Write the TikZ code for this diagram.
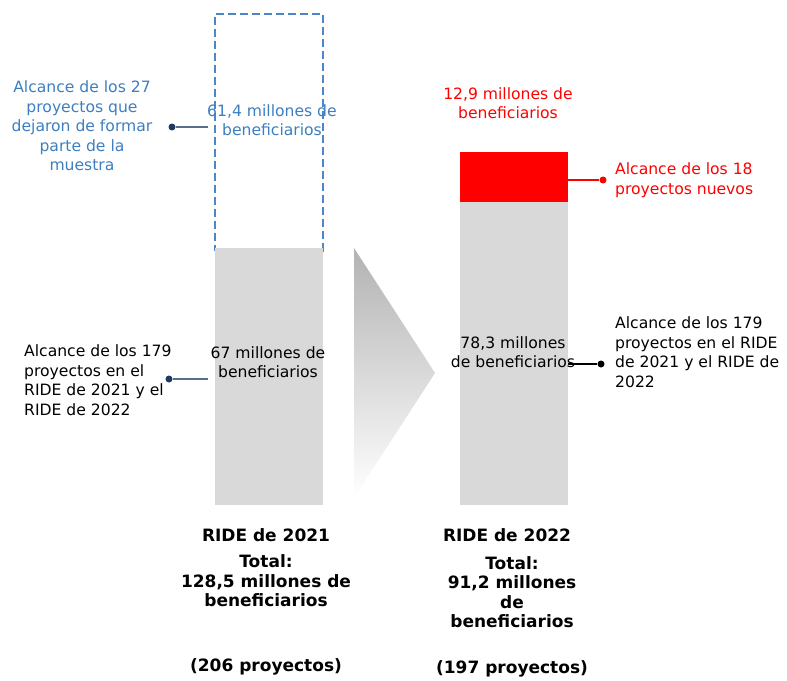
\documentclass[tikz,border=0pt]{standalone}
\usepackage{fontspec}
\setmainfont{DejaVu Sans}
\definecolor{barfill}{RGB}{217,217,217}
\definecolor{blueline}{RGB}{74,134,200}
\definecolor{bluetext}{RGB}{61,126,192}
\definecolor{navydot}{RGB}{31,56,100}
\definecolor{linkgray}{RGB}{90,110,140}

\begin{document}
\begin{tikzpicture}[x=1pt,y=-1pt,
	every node/.style={font=\fontsize{15.6}{19.5}\selectfont,inner sep=0pt},
	bar/.style={fill=barfill,draw=none,minimum width=108pt},
	dotmark/.style={circle,fill,inner sep=0pt,minimum size=7pt},
	link/.style={line width=1.3pt},
	bold/.style={font=\bfseries\fontsize{17}{19.5}\selectfont,align=center}]
	\useasboundingbox (0,0) rectangle (787,680);
	
	%bars
	\node[bar,minimum height=237pt,fill=none,draw=blueline,line width=1.2pt,dash pattern=on 8pt off 4pt] (lost) at (269,132.5) {}; %left, dashed
	\node[bar,minimum height=257pt] (old) at (269,376.5) {};		%left, grey
	\node[bar,minimum height=50pt,fill=red] (fresh) at (513.5,177) {};	%right, red
	\node[bar,minimum height=303pt] (kept) at (513.5,353.5) {};	%right, grey
	\shade[top color=black!30,bottom color=white] (354,248)--(435,373)--(354,498)--cycle; %arrow
	
	%labels in the bars
	\node[text=bluetext,align=center] (lostval) at (272,120) {61,4 millones de\\beneficiarios};
	\node[align=center] (oldval) at (268,362) {67 millones de\\beneficiarios};
	\node[text=red,align=center] (freshval) at (508,103) {12,9 millones de\\beneficiarios};
	\node[align=center] (keptval) at (513,352) {78,3 millones\\de beneficiarios};
	
	%side labels
	\node[text=bluetext,align=center] (lostlbl) at (82,126) {Alcance de los 27\\proyectos que\\dejaron de formar\\parte de la\\muestra};
	\node[align=left,anchor=west] (oldlbl) at (24,380) {Alcance de los 179\\proyectos en el\\RIDE de 2021 y el\\RIDE de 2022};
	\node[text=red,align=left,anchor=west] (freshlbl) at (615,180) {Alcance de los 18\\proyectos nuevos};
	\node[align=left,anchor=west] (keptlbl) at (615,352) {Alcance de los 179\\proyectos en el RIDE\\de 2021 y el RIDE de\\2022};
	
	%connectors
	\node[dotmark,navydot] (lostdot) at (172,127) {};
	\node[dotmark,navydot] (olddot) at (169,379) {};
	\node[dotmark,red] (freshdot) at (603,180) {};
	\node[dotmark,black] (keptdot) at (601,364) {};
	\coordinate (lostend) at (208,127);
	\coordinate (oldend) at (208,379);
	\draw[link,linkgray] (lostdot)--(lostend);
	\draw[link,linkgray] (olddot)--(oldend);
	\draw[link,red] (freshdot)--(fresh.east |- freshdot);
	\draw[link,black] (keptdot)--(kept.east |- keptdot);
	
	%totals
	\node[bold] (oldyear) at (266,535) {RIDE de 2021};
	\node[bold] (oldtotal) at (266,581) {Total:\\128,5 millones de\\beneficiarios};
	\node[bold] (oldcount) at (266,667) {(206 proyectos)};
	\node[bold] (newyear) at (507,535) {RIDE de 2022};
	\node[bold] (newtotal) at (512,592) {Total:\\91,2 millones\\de\\beneficiarios};
	\node[bold] (newcount) at (512,669) {(197 proyectos)};
\end{tikzpicture}
\end{document}
